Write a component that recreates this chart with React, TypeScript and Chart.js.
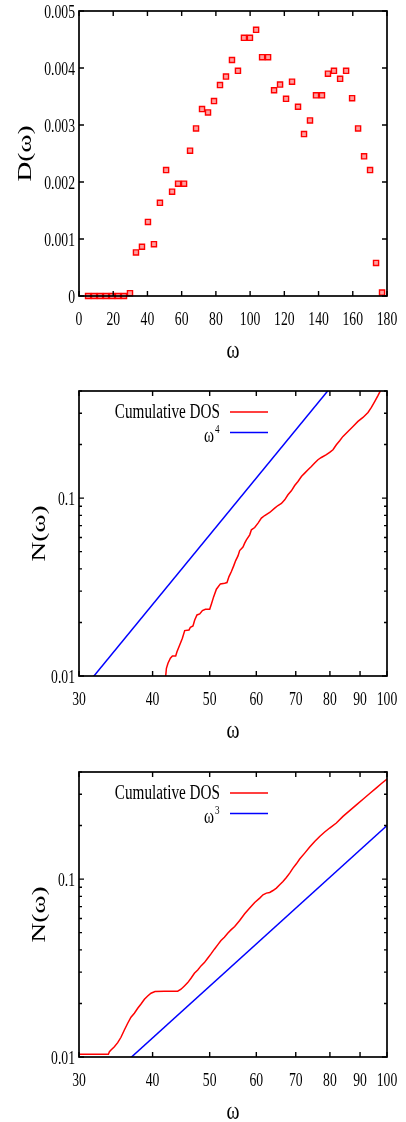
import React, { useEffect, useRef } from "react";
import { Chart, registerables } from "chart.js";

Chart.register(...registerables);

const FONT = '"Liberation Serif", "Times New Roman", serif';
const SX = 0.76; // horizontal squeeze of all text, as in the reference

// ---------- Panel 1: D(omega) ----------
const DOS_OMEGA = [
  5.3, 8.8, 12.3, 15.8, 19.3, 22.8, 26.3, 29.8, 33.3, 36.8,
  40.3, 43.8, 47.3, 50.9, 54.4, 57.9, 61.4, 64.9, 68.4, 71.9,
  75.4, 78.9, 82.4, 85.9, 89.4, 92.9, 96.4, 99.9, 103.5, 107.0,
  110.5, 114.0, 117.5, 121.0, 124.5, 128.0, 131.5, 135.0, 138.5, 142.0,
  145.5, 149.0, 152.6, 156.1, 159.6, 163.1, 166.6, 170.1, 173.6, 177.1,
];
const DOS_VALUES = [
  0, 0, 0, 0, 0, 0, 0, 0.00005, 0.000765, 0.000864,
  0.0013, 0.00091, 0.001635, 0.00221, 0.00183, 0.00197, 0.00197, 0.00255, 0.00294, 0.00328,
  0.00322, 0.00342, 0.0037, 0.00385, 0.00414, 0.00395, 0.00453, 0.00453, 0.00467, 0.00419,
  0.00419, 0.00361, 0.00371, 0.00346, 0.00376, 0.00332, 0.00284, 0.00308, 0.00352, 0.00352,
  0.0039, 0.00395, 0.00381, 0.00395, 0.00347, 0.00294, 0.00245, 0.00221, 0.00058, 0.00006,
];
const DOS_X_TICKS = [0, 20, 40, 60, 80, 100, 120, 140, 160, 180];
const DOS_X_TICK_LABELS = ["0", "20", "40", "60", "80", "100", "120", "140", "160", "180"];
const DOS_Y_TICKS = [0, 0.001, 0.002, 0.003, 0.004, 0.005];
const DOS_Y_TICK_LABELS = ["0", "0.001", "0.002", "0.003", "0.004", "0.005"];

// ---------- Panel 2: cumulative DOS vs omega^4 ----------
const CUM4_OMEGA = [
  42.1, 42.22, 42.48, 42.88, 43.22, 43.78, 44.0, 44.47, 44.94, 45.35,
  46.12, 46.37, 46.84, 47.16, 47.58, 48.09, 48.6, 49.17, 50.0, 50.34,
  50.79, 51.33, 52.14, 53.02, 53.5, 53.92, 54.43, 54.92, 55.35, 55.85,
  56.22, 56.95, 57.33, 57.72, 58.47, 58.86, 59.62, 60.4, 61.2, 62.0,
  63.22, 64.47, 65.3, 66.18, 67.04, 67.9, 68.81, 69.71, 70.61, 71.56,
  72.49, 73.43, 74.41, 75.37, 76.35, 77.37, 78.9, 79.92, 80.96, 82.04,
  83.11, 84.19, 85.85, 87.55, 89.27, 91.04, 92.84, 94.08, 95.35, 96.57,
  97.48,
];
const CUM4_N = [
  0.01, 0.01105, 0.01179, 0.01258, 0.01296, 0.01296, 0.0137, 0.01494, 0.0163, 0.01799,
  0.01815, 0.0188, 0.01911, 0.02066, 0.02204, 0.02233, 0.02331, 0.02373, 0.02373, 0.02542,
  0.02794, 0.03075, 0.03294, 0.03324, 0.0335, 0.03621, 0.03864, 0.04159, 0.04455, 0.04735,
  0.05073, 0.05301, 0.05583, 0.05827, 0.06217, 0.06633, 0.06834, 0.07234, 0.07718, 0.07983,
  0.08299, 0.08785, 0.09086, 0.09324, 0.09782, 0.1044, 0.1099, 0.1177, 0.124, 0.1323,
  0.1382, 0.1443, 0.1506, 0.1574, 0.1643, 0.1692, 0.1753, 0.1806, 0.187, 0.1995,
  0.2101, 0.2222, 0.2371, 0.2529, 0.2698, 0.2842, 0.3032, 0.3235, 0.3497, 0.3779,
  0.4017,
];
const POW4_OMEGA = [30, 100];
const POW4_N = [0.0079, 1.02];

// ---------- Panel 3: cumulative DOS vs omega^3 ----------
const CUM3_OMEGA = [
  30, 33.65, 33.79, 34.0, 34.45, 34.9, 35.35, 35.82, 36.29, 36.76,
  37.25, 37.74, 38.23, 38.74, 39.24, 39.75, 40.38, 41.89, 44.13, 44.7,
  45.3, 45.89, 46.48, 47.1, 47.72, 48.33, 48.98, 49.61, 50.26, 50.93,
  51.59, 52.26, 52.96, 53.65, 54.34, 55.14, 56.22, 57.33, 58.47, 59.62,
  60.8, 61.59, 62.41, 63.22, 64.04, 64.9, 65.74, 66.59, 67.48, 68.36,
  69.25, 70.17, 71.08, 72.49, 73.92, 75.37, 76.86, 78.38, 79.92, 82.04,
  84.19, 86.42, 88.72, 91.04, 93.46, 95.94, 97.86, 100,
];
const CUM3_N = [
  0.01036, 0.01036, 0.01071, 0.01095, 0.01143, 0.01204, 0.01291, 0.01419, 0.01548, 0.01673,
  0.01762, 0.0188, 0.01987, 0.02112, 0.02204, 0.02283, 0.02331, 0.02343, 0.02343, 0.02404,
  0.02509, 0.02619, 0.02773, 0.02958, 0.03087, 0.03252, 0.03394, 0.03593, 0.03799, 0.04037,
  0.04269, 0.04513, 0.04717, 0.04968, 0.05185, 0.05412, 0.0585, 0.0638, 0.06869, 0.07386,
  0.07819, 0.0816, 0.08342, 0.08407, 0.08627, 0.089, 0.09288, 0.09694, 0.1021, 0.1081,
  0.1153, 0.1219, 0.1296, 0.14, 0.1514, 0.1628, 0.1737, 0.1839, 0.1937, 0.2066,
  0.2253, 0.2426, 0.2612, 0.2812, 0.3028, 0.326, 0.3448, 0.3654,
];
const POW3_OMEGA = [30, 100];
const POW3_N = [0.0054, 0.2];

// ---------- log axes ticks ----------
const LOG_X_TICKS = [30, 40, 50, 60, 70, 80, 90, 100];
const LOG_X_TICK_LABELS = ["30", "40", "50", "60", "70", "80", "90", "100"];
const LOG_Y_MAJOR = [0.01, 0.1];
const LOG_Y_MAJOR_LABELS = ["0.01", "0.1"];
const LOG_Y_MINOR = [0.02, 0.03, 0.04, 0.05, 0.06, 0.07, 0.08, 0.09, 0.2, 0.3, 0.4];

const RED = "#ff0000";
const BLUE = "#0000ff";

type Tick = { value: number; label?: string; major: boolean };
type LegendItem = { text: string; sup?: string; color: string };
type Spec = {
  canvasTop: number;
  canvasHeight: number;
  plotTop: number;
  plotBottom: number;
  plotLeft: number;
  plotRight: number;
  xType: "linear" | "logarithmic";
  yType: "linear" | "logarithmic";
  xMin: number;
  xMax: number;
  yMin: number;
  yMax: number;
  xTicks: Tick[];
  yTicks: Tick[];
  xTitle: string;
  yTitle: string;
  yTitleX: number;
  datasets: any[];
  legend?: LegendItem[];
};

const zip = (xs: number[], ys: number[]) => xs.map((x, i) => ({ x, y: ys[i] }));
const majorTicks = (vals: number[], labels: string[]): Tick[] =>
  vals.map((v, i) => ({ value: v, label: labels[i], major: true }));

const lineDs = (label: string, xs: number[], ys: number[], color: string) => ({
  type: "line",
  label,
  data: zip(xs, ys),
  borderColor: color,
  backgroundColor: color,
  borderWidth: 1.5,
  pointRadius: 0,
  tension: 0,
  fill: false,
});

const SPECS: Spec[] = [
  {
    canvasTop: 0,
    canvasHeight: 375,
    plotTop: 11,
    plotBottom: 296,
    plotLeft: 79,
    plotRight: 387,
    xType: "linear",
    yType: "linear",
    xMin: 0,
    xMax: 180,
    yMin: 0,
    yMax: 0.005,
    xTicks: majorTicks(DOS_X_TICKS, DOS_X_TICK_LABELS),
    yTicks: majorTicks(DOS_Y_TICKS, DOS_Y_TICK_LABELS),
    xTitle: "ω",
    yTitle: "D(ω)",
    yTitleX: 26,
    datasets: [
      {
        type: "scatter",
        label: "D(ω)",
        data: zip(DOS_OMEGA, DOS_VALUES),
        pointStyle: "rect",
        pointRadius: 3.6,
        borderColor: RED,
        backgroundColor: "#ffa0a0",
        borderWidth: 1.4,
        clip: false,
      },
    ],
  },
  {
    canvasTop: 375,
    canvasHeight: 375,
    plotTop: 391,
    plotBottom: 676,
    plotLeft: 79,
    plotRight: 387,
    xType: "logarithmic",
    yType: "logarithmic",
    xMin: 30,
    xMax: 100,
    yMin: 0.01,
    yMax: 0.4,
    xTicks: majorTicks(LOG_X_TICKS, LOG_X_TICK_LABELS),
    yTicks: [
      ...majorTicks(LOG_Y_MAJOR, LOG_Y_MAJOR_LABELS),
      ...LOG_Y_MINOR.map((v) => ({ value: v, major: false })),
    ],
    xTitle: "ω",
    yTitle: "N(ω)",
    yTitleX: 40,
    datasets: [
      lineDs("Cumulative DOS", CUM4_OMEGA, CUM4_N, RED),
      lineDs("ω^4", POW4_OMEGA, POW4_N, BLUE),
    ],
    legend: [
      { text: "Cumulative DOS", color: RED },
      { text: "ω", sup: "4", color: BLUE },
    ],
  },
  {
    canvasTop: 750,
    canvasHeight: 372,
    plotTop: 772,
    plotBottom: 1057,
    plotLeft: 79,
    plotRight: 387,
    xType: "logarithmic",
    yType: "logarithmic",
    xMin: 30,
    xMax: 100,
    yMin: 0.01,
    yMax: 0.4,
    xTicks: majorTicks(LOG_X_TICKS, LOG_X_TICK_LABELS),
    yTicks: [
      ...majorTicks(LOG_Y_MAJOR, LOG_Y_MAJOR_LABELS),
      ...LOG_Y_MINOR.map((v) => ({ value: v, major: false })),
    ],
    xTitle: "ω",
    yTitle: "N(ω)",
    yTitleX: 40,
    datasets: [
      lineDs("Cumulative DOS", CUM3_OMEGA, CUM3_N, RED),
      lineDs("ω^3", POW3_OMEGA, POW3_N, BLUE),
    ],
    legend: [
      { text: "Cumulative DOS", color: RED },
      { text: "ω", sup: "3", color: BLUE },
    ],
  },
];

function drawText(
  ctx: CanvasRenderingContext2D,
  text: string,
  x: number,
  y: number,
  size: number,
  align: CanvasTextAlign,
  baseline: CanvasTextBaseline,
  rot = 0,
  targetLen = 0
) {
  ctx.save();
  ctx.translate(x, y);
  ctx.scale(SX, 1);
  if (rot) ctx.rotate(rot);
  ctx.font = `${size}px ${FONT}`;
  if (targetLen > 0) {
    const w = ctx.measureText(text).width;
    if (w > 0) ctx.scale(targetLen / w, 1);
  }
  ctx.fillStyle = "#000";
  ctx.textAlign = align;
  ctx.textBaseline = baseline;
  ctx.fillText(text, 0, 0);
  ctx.restore();
}

function framePlugin(spec: Spec) {
  return {
    id: "gnuplotFrame",
    afterDraw(chart: any) {
      const { ctx, chartArea: a, scales } = chart;
      const xs = scales.x;
      const ys = scales.y;
      ctx.save();
      ctx.strokeStyle = "#000";
      ctx.lineWidth = 1.4;
      ctx.beginPath();
      // inward ticks, mirrored on the opposite side
      for (const t of spec.xTicks) {
        const px = xs.getPixelForValue(t.value);
        const len = t.major ? 5 : 3;
        ctx.moveTo(px, a.bottom);
        ctx.lineTo(px, a.bottom - len);
        ctx.moveTo(px, a.top);
        ctx.lineTo(px, a.top + len);
      }
      for (const t of spec.yTicks) {
        const py = ys.getPixelForValue(t.value);
        const len = t.major ? 5 : 3;
        ctx.moveTo(a.left, py);
        ctx.lineTo(a.left + len, py);
        ctx.moveTo(a.right, py);
        ctx.lineTo(a.right - len, py);
      }
      ctx.stroke();
      ctx.lineWidth = 1.7;
      ctx.strokeRect(a.left, a.top, a.right - a.left, a.bottom - a.top);

      // tick labels
      for (const t of spec.xTicks) {
        if (!t.label) continue;
        drawText(ctx, t.label, xs.getPixelForValue(t.value), a.bottom + 29, 18, "center", "alphabetic");
      }
      for (const t of spec.yTicks) {
        if (!t.label) continue;
        drawText(ctx, t.label, a.left - 4, ys.getPixelForValue(t.value) + 7, 18, "right", "alphabetic");
      }

      // axis titles
      drawText(ctx, spec.xTitle, (a.left + a.right) / 2, a.bottom + 62, 26, "center", "alphabetic");
      drawText(ctx, spec.yTitle, spec.yTitleX, (a.top + a.bottom) / 2, 26, "center", "middle", -Math.PI / 2, 56);

      // legend
      if (spec.legend) {
        const rowY = [a.top + 21, a.top + 41.5];
        spec.legend.forEach((item, i) => {
          const y = rowY[i];
          if (item.sup) {
            drawText(ctx, item.text, 214, y + 9, 20, "right", "alphabetic");
            drawText(ctx, item.sup, 215, y, 12, "left", "alphabetic");
          } else {
            drawText(ctx, item.text, 220, y + 6, 20, "right", "alphabetic");
          }
          ctx.strokeStyle = item.color;
          ctx.lineWidth = 1.5;
          ctx.beginPath();
          ctx.moveTo(230, y);
          ctx.lineTo(268, y);
          ctx.stroke();
        });
      }
      ctx.restore();
    },
  };
}

function buildConfig(spec: Spec): any {
  const hidden = {
    ticks: { display: false },
    grid: { display: false },
    border: { display: false },
    title: { display: false },
  };
  const xTickVals = spec.xTicks.map((t) => t.value);
  const yTickVals = spec.yTicks.map((t) => t.value);
  return {
    type: "scatter",
    data: { datasets: spec.datasets },
    options: {
      responsive: false,
      maintainAspectRatio: false,
      animation: false,
      events: [],
      layout: {
        padding: {
          top: spec.plotTop - spec.canvasTop,
          left: 0,
          right: 406 - spec.plotRight,
          bottom: 0,
        },
      },
      plugins: {
        legend: { display: false },
        tooltip: { enabled: false },
        title: { display: false },
      },
      scales: {
        x: {
          type: spec.xType,
          min: spec.xMin,
          max: spec.xMax,
          ...hidden,
          afterBuildTicks: (s: any) => {
            s.ticks = xTickVals.map((v) => ({ value: v }));
          },
          afterFit: (s: any) => {
            s.height = spec.canvasTop + spec.canvasHeight - spec.plotBottom;
          },
        },
        y: {
          type: spec.yType,
          min: spec.yMin,
          max: spec.yMax,
          ...hidden,
          afterBuildTicks: (s: any) => {
            s.ticks = yTickVals.map((v) => ({ value: v }));
          },
          afterFit: (s: any) => {
            s.width = spec.plotLeft;
          },
        },
      },
    },
    plugins: [framePlugin(spec)],
  };
}

function Panel({ spec }: { spec: Spec }) {
  const ref = useRef<HTMLCanvasElement | null>(null);
  useEffect(() => {
    if (!ref.current) return;
    const chart = new Chart(ref.current, buildConfig(spec));
    return () => chart.destroy();
  }, [spec]);
  return (
    <canvas
      ref={ref}
      width={406}
      height={spec.canvasHeight}
      style={{
        position: "absolute",
        left: 0,
        top: spec.canvasTop,
        width: 406,
        height: spec.canvasHeight,
        display: "block",
      }}
    />
  );
}

export default function App() {
  return (
    <div
      style={{
        position: "absolute",
        left: 0,
        top: 0,
        width: 406,
        height: 1122,
        background: "#fff",
        overflow: "hidden",
      }}
    >
      {SPECS.map((s, i) => (
        <Panel key={i} spec={s} />
      ))}
    </div>
  );
}
